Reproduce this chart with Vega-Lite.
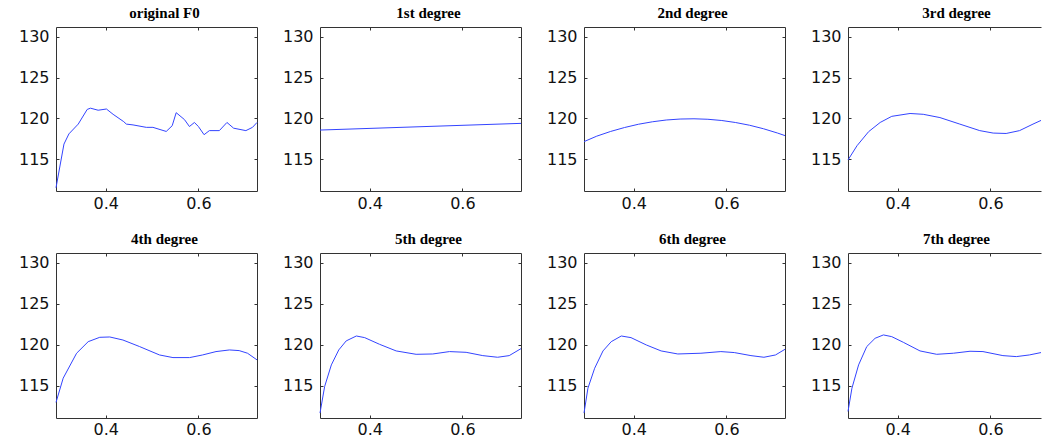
{
  "$schema": "https://vega.github.io/schema/vega-lite/v6.json",
  "padding": {"left": 18, "top": 5, "right": 0, "bottom": 0},
  "background": "white",
  "config": {
    "view": {"stroke": null},
    "title": {"font": "Liberation Serif", "fontWeight": "bold", "fontSize": 15, "color": "#000", "offset": 6, "dx": 8},
    "axis": {
      "grid": false,
      "domainColor": "#333",
      "domainWidth": 1,
      "tickColor": "#333",
      "tickSize": -3,
      "labelFont": "DejaVu Sans",
      "labelFontSize": 16,
      "labelColor": "#111",
      "title": null
    },
    "line": {"color": "#3344ff", "strokeWidth": 1}
  },
  "datasets": {
    "f0": [
      {"p": "original F0", "x": 0.2925, "y": 111.5},
      {"p": "original F0", "x": 0.3097, "y": 116.85},
      {"p": "original F0", "x": 0.3204, "y": 118.1},
      {"p": "original F0", "x": 0.3405, "y": 119.3},
      {"p": "original F0", "x": 0.3599, "y": 121.1},
      {"p": "original F0", "x": 0.367, "y": 121.25},
      {"p": "original F0", "x": 0.3835, "y": 121.0},
      {"p": "original F0", "x": 0.4014, "y": 121.15},
      {"p": "original F0", "x": 0.4158, "y": 120.5},
      {"p": "original F0", "x": 0.4387, "y": 119.6},
      {"p": "original F0", "x": 0.4444, "y": 119.3},
      {"p": "original F0", "x": 0.4588, "y": 119.2},
      {"p": "original F0", "x": 0.4875, "y": 118.9},
      {"p": "original F0", "x": 0.5018, "y": 118.9},
      {"p": "original F0", "x": 0.5305, "y": 118.4},
      {"p": "original F0", "x": 0.5434, "y": 119.1},
      {"p": "original F0", "x": 0.552, "y": 120.7},
      {"p": "original F0", "x": 0.5699, "y": 119.85},
      {"p": "original F0", "x": 0.5806, "y": 119.0},
      {"p": "original F0", "x": 0.5914, "y": 119.5},
      {"p": "original F0", "x": 0.6, "y": 119.0},
      {"p": "original F0", "x": 0.6122, "y": 118.0},
      {"p": "original F0", "x": 0.6237, "y": 118.5},
      {"p": "original F0", "x": 0.6452, "y": 118.5},
      {"p": "original F0", "x": 0.6616, "y": 119.5},
      {"p": "original F0", "x": 0.676, "y": 118.8},
      {"p": "original F0", "x": 0.7025, "y": 118.5},
      {"p": "original F0", "x": 0.7168, "y": 118.9},
      {"p": "original F0", "x": 0.7265, "y": 119.5},

      {"p": "1st degree", "x": 0.2925, "y": 118.57},
      {"p": "1st degree", "x": 0.7265, "y": 119.39},

      {"p": "2nd degree", "x": 0.2925, "y": 117.15},
      {"p": "2nd degree", "x": 0.32, "y": 117.82},
      {"p": "2nd degree", "x": 0.35, "y": 118.4},
      {"p": "2nd degree", "x": 0.38, "y": 118.88},
      {"p": "2nd degree", "x": 0.41, "y": 119.28},
      {"p": "2nd degree", "x": 0.44, "y": 119.58},
      {"p": "2nd degree", "x": 0.47, "y": 119.8},
      {"p": "2nd degree", "x": 0.5, "y": 119.92},
      {"p": "2nd degree", "x": 0.53, "y": 119.95},
      {"p": "2nd degree", "x": 0.56, "y": 119.89},
      {"p": "2nd degree", "x": 0.59, "y": 119.74},
      {"p": "2nd degree", "x": 0.62, "y": 119.49},
      {"p": "2nd degree", "x": 0.65, "y": 119.16},
      {"p": "2nd degree", "x": 0.68, "y": 118.73},
      {"p": "2nd degree", "x": 0.71, "y": 118.21},
      {"p": "2nd degree", "x": 0.7265, "y": 117.89},

      {"p": "3rd degree", "x": 0.2925, "y": 114.9},
      {"p": "3rd degree", "x": 0.312, "y": 116.65},
      {"p": "3rd degree", "x": 0.337, "y": 118.37},
      {"p": "3rd degree", "x": 0.362, "y": 119.5},
      {"p": "3rd degree", "x": 0.387, "y": 120.25},
      {"p": "3rd degree", "x": 0.4265, "y": 120.6},
      {"p": "3rd degree", "x": 0.455, "y": 120.5},
      {"p": "3rd degree", "x": 0.491, "y": 120.1},
      {"p": "3rd degree", "x": 0.534, "y": 119.3},
      {"p": "3rd degree", "x": 0.577, "y": 118.5},
      {"p": "3rd degree", "x": 0.606, "y": 118.2},
      {"p": "3rd degree", "x": 0.634, "y": 118.15},
      {"p": "3rd degree", "x": 0.663, "y": 118.5},
      {"p": "3rd degree", "x": 0.692, "y": 119.3},
      {"p": "3rd degree", "x": 0.7093, "y": 119.75},

      {"p": "4th degree", "x": 0.2925, "y": 113.0},
      {"p": "4th degree", "x": 0.308, "y": 115.95},
      {"p": "4th degree", "x": 0.337, "y": 118.99},
      {"p": "4th degree", "x": 0.362, "y": 120.4},
      {"p": "4th degree", "x": 0.387, "y": 120.93},
      {"p": "4th degree", "x": 0.4086, "y": 120.97},
      {"p": "4th degree", "x": 0.437, "y": 120.6},
      {"p": "4th degree", "x": 0.473, "y": 119.8},
      {"p": "4th degree", "x": 0.516, "y": 118.78},
      {"p": "4th degree", "x": 0.545, "y": 118.46},
      {"p": "4th degree", "x": 0.581, "y": 118.46},
      {"p": "4th degree", "x": 0.609, "y": 118.78},
      {"p": "4th degree", "x": 0.638, "y": 119.19},
      {"p": "4th degree", "x": 0.667, "y": 119.39},
      {"p": "4th degree", "x": 0.688, "y": 119.31},
      {"p": "4th degree", "x": 0.706, "y": 118.99},
      {"p": "4th degree", "x": 0.7265, "y": 118.18},

      {"p": "5th degree", "x": 0.2925, "y": 111.7},
      {"p": "5th degree", "x": 0.3025, "y": 114.93},
      {"p": "5th degree", "x": 0.317, "y": 117.57},
      {"p": "5th degree", "x": 0.333, "y": 119.39},
      {"p": "5th degree", "x": 0.349, "y": 120.49},
      {"p": "5th degree", "x": 0.371, "y": 121.09},
      {"p": "5th degree", "x": 0.389, "y": 120.89},
      {"p": "5th degree", "x": 0.421, "y": 120.08},
      {"p": "5th degree", "x": 0.457, "y": 119.27},
      {"p": "5th degree", "x": 0.5, "y": 118.86},
      {"p": "5th degree", "x": 0.536, "y": 118.9},
      {"p": "5th degree", "x": 0.572, "y": 119.19},
      {"p": "5th degree", "x": 0.608, "y": 119.1},
      {"p": "5th degree", "x": 0.644, "y": 118.7},
      {"p": "5th degree", "x": 0.676, "y": 118.5},
      {"p": "5th degree", "x": 0.701, "y": 118.7},
      {"p": "5th degree", "x": 0.7265, "y": 119.55},

      {"p": "6th degree", "x": 0.2925, "y": 111.7},
      {"p": "6th degree", "x": 0.301, "y": 114.73},
      {"p": "6th degree", "x": 0.3155, "y": 117.16},
      {"p": "6th degree", "x": 0.3335, "y": 119.27},
      {"p": "6th degree", "x": 0.3513, "y": 120.4},
      {"p": "6th degree", "x": 0.373, "y": 121.09},
      {"p": "6th degree", "x": 0.394, "y": 120.89},
      {"p": "6th degree", "x": 0.427, "y": 120.0},
      {"p": "6th degree", "x": 0.459, "y": 119.27},
      {"p": "6th degree", "x": 0.495, "y": 118.9},
      {"p": "6th degree", "x": 0.545, "y": 118.99},
      {"p": "6th degree", "x": 0.588, "y": 119.19},
      {"p": "6th degree", "x": 0.617, "y": 119.07},
      {"p": "6th degree", "x": 0.653, "y": 118.7},
      {"p": "6th degree", "x": 0.681, "y": 118.5},
      {"p": "6th degree", "x": 0.706, "y": 118.78},
      {"p": "6th degree", "x": 0.7265, "y": 119.47},

      {"p": "7th degree", "x": 0.2925, "y": 111.9},
      {"p": "7th degree", "x": 0.301, "y": 114.73},
      {"p": "7th degree", "x": 0.3154, "y": 117.57},
      {"p": "7th degree", "x": 0.333, "y": 119.8},
      {"p": "7th degree", "x": 0.351, "y": 120.81},
      {"p": "7th degree", "x": 0.369, "y": 121.22},
      {"p": "7th degree", "x": 0.387, "y": 121.01},
      {"p": "7th degree", "x": 0.412, "y": 120.32},
      {"p": "7th degree", "x": 0.448, "y": 119.27},
      {"p": "7th degree", "x": 0.484, "y": 118.86},
      {"p": "7th degree", "x": 0.52, "y": 118.99},
      {"p": "7th degree", "x": 0.556, "y": 119.23},
      {"p": "7th degree", "x": 0.584, "y": 119.19},
      {"p": "7th degree", "x": 0.627, "y": 118.7},
      {"p": "7th degree", "x": 0.656, "y": 118.58},
      {"p": "7th degree", "x": 0.684, "y": 118.78},
      {"p": "7th degree", "x": 0.7093, "y": 119.07}
    ]
  },
  "vconcat": [
    {
      "hconcat": [
        {
          "width": 201, "height": 164,
          "title": "original F0",
          "data": {"name": "f0"},
          "transform": [{"filter": "datum.p === 'original F0'"}],
          "layer": [
            {"mark": "line", "encoding": {
              "x": {"field": "x", "type": "quantitative", "scale": {"domain": [0.2925, 0.7265], "nice": false, "zero": false}, "axis": {"values": [0.4, 0.6], "format": ".1f", "labelPadding": 7}},
              "y": {"field": "y", "type": "quantitative", "scale": {"domain": [111.1, 131.2], "nice": false, "zero": false}, "axis": {"values": [115, 120, 125, 130], "labelPadding": 10}}}},
            {"mark": {"type": "line", "opacity": 0}, "encoding": {
              "x": {"field": "x", "type": "quantitative", "axis": {"orient": "top", "values": [0.4, 0.6], "labels": false}},
              "y": {"field": "y", "type": "quantitative", "axis": {"orient": "right", "values": [115, 120, 125, 130], "labels": false}}}}
          ],
          "resolve": {"axis": {"x": "independent", "y": "independent"}}
        },
        {
          "width": 201, "height": 164,
          "title": "1st degree",
          "data": {"name": "f0"},
          "transform": [{"filter": "datum.p === '1st degree'"}],
          "layer": [
            {"mark": "line", "encoding": {
              "x": {"field": "x", "type": "quantitative", "scale": {"domain": [0.2925, 0.7265], "nice": false, "zero": false}, "axis": {"values": [0.4, 0.6], "format": ".1f", "labelPadding": 7}},
              "y": {"field": "y", "type": "quantitative", "scale": {"domain": [111.1, 131.2], "nice": false, "zero": false}, "axis": {"values": [115, 120, 125, 130], "labelPadding": 10}}}},
            {"mark": {"type": "line", "opacity": 0}, "encoding": {
              "x": {"field": "x", "type": "quantitative", "axis": {"orient": "top", "values": [0.4, 0.6], "labels": false}},
              "y": {"field": "y", "type": "quantitative", "axis": {"orient": "right", "values": [115, 120, 125, 130], "labels": false}}}}
          ],
          "resolve": {"axis": {"x": "independent", "y": "independent"}}
        },
        {
          "width": 201, "height": 164,
          "title": "2nd degree",
          "data": {"name": "f0"},
          "transform": [{"filter": "datum.p === '2nd degree'"}],
          "layer": [
            {"mark": "line", "encoding": {
              "x": {"field": "x", "type": "quantitative", "scale": {"domain": [0.2925, 0.7265], "nice": false, "zero": false}, "axis": {"values": [0.4, 0.6], "format": ".1f", "labelPadding": 7}},
              "y": {"field": "y", "type": "quantitative", "scale": {"domain": [111.1, 131.2], "nice": false, "zero": false}, "axis": {"values": [115, 120, 125, 130], "labelPadding": 10}}}},
            {"mark": {"type": "line", "opacity": 0}, "encoding": {
              "x": {"field": "x", "type": "quantitative", "axis": {"orient": "top", "values": [0.4, 0.6], "labels": false}},
              "y": {"field": "y", "type": "quantitative", "axis": {"orient": "right", "values": [115, 120, 125, 130], "labels": false}}}}
          ],
          "resolve": {"axis": {"x": "independent", "y": "independent"}}
        },
        {
          "width": 193, "height": 164,
          "title": {"text": "3rd degree", "dx": 12},
          "data": {"name": "f0"},
          "transform": [{"filter": "datum.p === '3rd degree'"}],
          "layer": [
            {"mark": "line", "encoding": {
              "x": {"field": "x", "type": "quantitative", "scale": {"domain": [0.2925, 0.7093], "nice": false, "zero": false}, "axis": {"values": [0.4, 0.6], "format": ".1f", "labelPadding": 7}},
              "y": {"field": "y", "type": "quantitative", "scale": {"domain": [111.1, 131.2], "nice": false, "zero": false}, "axis": {"values": [115, 120, 125, 130], "labelPadding": 10}}}},
            {"mark": {"type": "line", "opacity": 0}, "encoding": {
              "x": {"field": "x", "type": "quantitative", "axis": {"orient": "top", "values": [0.4, 0.6], "labels": false}}}}
          ],
          "resolve": {"axis": {"x": "independent", "y": "independent"}}
        }
      ],
      "spacing": 23
    },
    {
      "hconcat": [
        {
          "width": 201, "height": 165,
          "title": "4th degree",
          "data": {"name": "f0"},
          "transform": [{"filter": "datum.p === '4th degree'"}],
          "layer": [
            {"mark": "line", "encoding": {
              "x": {"field": "x", "type": "quantitative", "scale": {"domain": [0.2925, 0.7265], "nice": false, "zero": false}, "axis": {"values": [0.4, 0.6], "format": ".1f", "labelPadding": 6}},
              "y": {"field": "y", "type": "quantitative", "scale": {"domain": [111.1, 131.2], "nice": false, "zero": false}, "axis": {"values": [115, 120, 125, 130], "labelPadding": 10}}}},
            {"mark": {"type": "line", "opacity": 0}, "encoding": {
              "x": {"field": "x", "type": "quantitative", "axis": {"orient": "top", "values": [0.4, 0.6], "labels": false}},
              "y": {"field": "y", "type": "quantitative", "axis": {"orient": "right", "values": [115, 120, 125, 130], "labels": false}}}}
          ],
          "resolve": {"axis": {"x": "independent", "y": "independent"}}
        },
        {
          "width": 201, "height": 165,
          "title": "5th degree",
          "data": {"name": "f0"},
          "transform": [{"filter": "datum.p === '5th degree'"}],
          "layer": [
            {"mark": "line", "encoding": {
              "x": {"field": "x", "type": "quantitative", "scale": {"domain": [0.2925, 0.7265], "nice": false, "zero": false}, "axis": {"values": [0.4, 0.6], "format": ".1f", "labelPadding": 6}},
              "y": {"field": "y", "type": "quantitative", "scale": {"domain": [111.1, 131.2], "nice": false, "zero": false}, "axis": {"values": [115, 120, 125, 130], "labelPadding": 10}}}},
            {"mark": {"type": "line", "opacity": 0}, "encoding": {
              "x": {"field": "x", "type": "quantitative", "axis": {"orient": "top", "values": [0.4, 0.6], "labels": false}},
              "y": {"field": "y", "type": "quantitative", "axis": {"orient": "right", "values": [115, 120, 125, 130], "labels": false}}}}
          ],
          "resolve": {"axis": {"x": "independent", "y": "independent"}}
        },
        {
          "width": 201, "height": 165,
          "title": "6th degree",
          "data": {"name": "f0"},
          "transform": [{"filter": "datum.p === '6th degree'"}],
          "layer": [
            {"mark": "line", "encoding": {
              "x": {"field": "x", "type": "quantitative", "scale": {"domain": [0.2925, 0.7265], "nice": false, "zero": false}, "axis": {"values": [0.4, 0.6], "format": ".1f", "labelPadding": 6}},
              "y": {"field": "y", "type": "quantitative", "scale": {"domain": [111.1, 131.2], "nice": false, "zero": false}, "axis": {"values": [115, 120, 125, 130], "labelPadding": 10}}}},
            {"mark": {"type": "line", "opacity": 0}, "encoding": {
              "x": {"field": "x", "type": "quantitative", "axis": {"orient": "top", "values": [0.4, 0.6], "labels": false}},
              "y": {"field": "y", "type": "quantitative", "axis": {"orient": "right", "values": [115, 120, 125, 130], "labels": false}}}}
          ],
          "resolve": {"axis": {"x": "independent", "y": "independent"}}
        },
        {
          "width": 193, "height": 165,
          "title": {"text": "7th degree", "dx": 12},
          "data": {"name": "f0"},
          "transform": [{"filter": "datum.p === '7th degree'"}],
          "layer": [
            {"mark": "line", "encoding": {
              "x": {"field": "x", "type": "quantitative", "scale": {"domain": [0.2925, 0.7093], "nice": false, "zero": false}, "axis": {"values": [0.4, 0.6], "format": ".1f", "labelPadding": 6}},
              "y": {"field": "y", "type": "quantitative", "scale": {"domain": [111.1, 131.2], "nice": false, "zero": false}, "axis": {"values": [115, 120, 125, 130], "labelPadding": 10}}}},
            {"mark": {"type": "line", "opacity": 0}, "encoding": {
              "x": {"field": "x", "type": "quantitative", "axis": {"orient": "top", "values": [0.4, 0.6], "labels": false}}}}
          ],
          "resolve": {"axis": {"x": "independent", "y": "independent"}}
        }
      ],
      "spacing": 23
    }
  ],
  "spacing": 20
}
